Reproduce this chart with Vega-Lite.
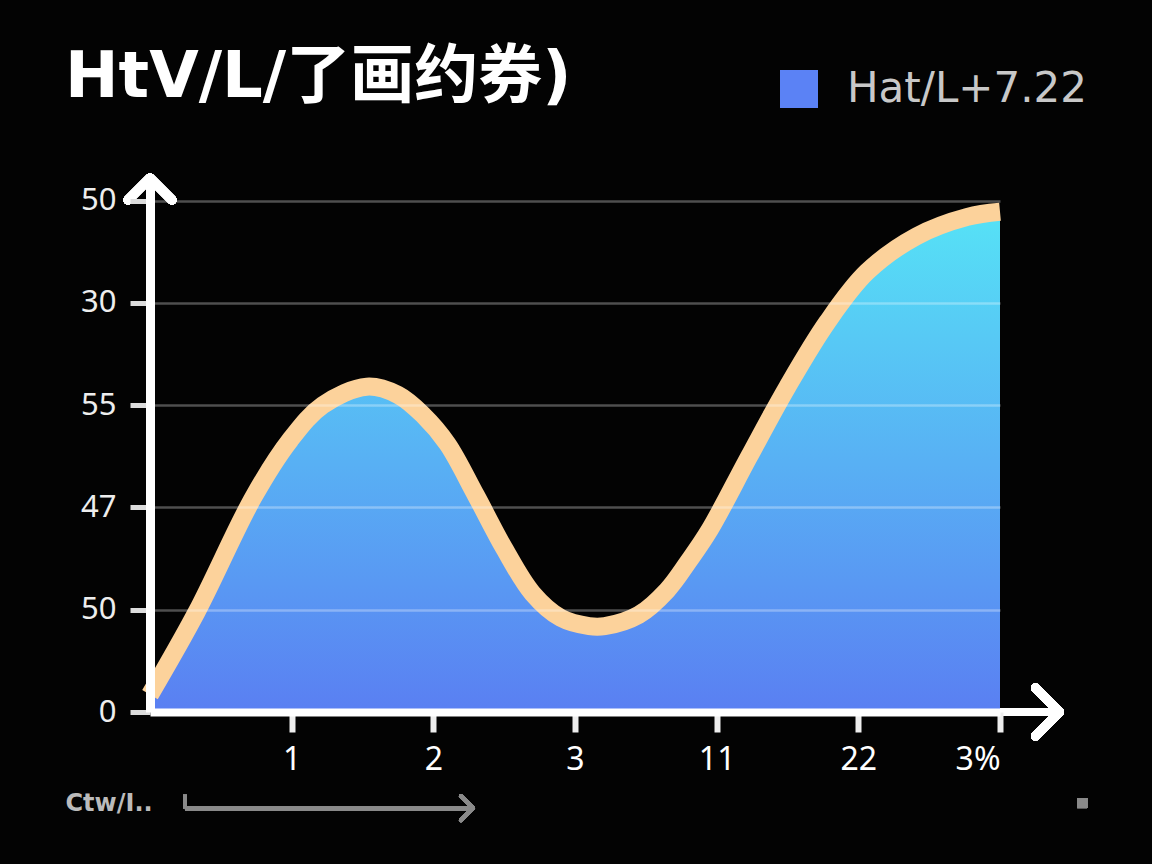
{
  "$schema": "https://vega.github.io/schema/vega-lite/v6.json",
  "autosize": {"type": "none"},
  "width": 850,
  "height": 534,
  "padding": {"left": 150, "top": 178, "right": 152, "bottom": 152},
  "background": "#030303",
  "title": {
    "text": "HtV/L/了画约券)",
    "anchor": "start",
    "frame": "group",
    "dx": -85,
    "dy": 42,
    "offset": 0,
    "font": "DejaVu Sans, Noto Sans CJK SC",
    "fontSize": 64,
    "fontWeight": "bold",
    "color": "#ffffff"
  },
  "config": {
    "view": {"stroke": null},
    "axis": {"labelFont": "Noto Sans", "titleFont": "DejaVu Sans"}
  },
  "data": {
    "values": [
      {"x": 0, "y": 0.17},
      {"x": 0.33, "y": 0.98},
      {"x": 0.73, "y": 2.1},
      {"x": 0.99, "y": 2.66},
      {"x": 1.22, "y": 3.0},
      {"x": 1.53, "y": 3.18},
      {"x": 1.75, "y": 3.1},
      {"x": 1.93, "y": 2.9},
      {"x": 2.1, "y": 2.62},
      {"x": 2.3, "y": 2.12},
      {"x": 2.5, "y": 1.6},
      {"x": 2.7, "y": 1.16},
      {"x": 2.9, "y": 0.92},
      {"x": 3.1, "y": 0.84},
      {"x": 3.21, "y": 0.84},
      {"x": 3.45, "y": 0.95},
      {"x": 3.65, "y": 1.19},
      {"x": 3.8, "y": 1.47},
      {"x": 3.95, "y": 1.78},
      {"x": 4.23, "y": 2.5},
      {"x": 4.5, "y": 3.18},
      {"x": 4.78, "y": 3.81},
      {"x": 5.06, "y": 4.3},
      {"x": 5.41, "y": 4.65},
      {"x": 5.77, "y": 4.84},
      {"x": 6.0, "y": 4.89}
    ]
  },
  "layer": [
    {
      "mark": {
        "type": "area",
        "interpolate": "catmull-rom",
        "color": {
          "gradient": "linear",
          "x1": 0, "y1": 0, "x2": 0, "y2": 1,
          "stops": [
            {"offset": 0, "color": "#56e2f6"},
            {"offset": 1, "color": "#5a7ff2"}
          ]
        }
      },
      "encoding": {
        "x": {
          "field": "x",
          "type": "quantitative",
          "scale": {"domain": [0, 6], "nice": false, "zero": false},
          "axis": {
            "values": [1, 2, 3, 4, 5, 6],
            "labelExpr": "['','1','2','3','11','22','3%'][datum.value]",
            "grid": false,
            "zindex": 1,
            "domainColor": "#ffffff",
            "domainWidth": 8,
            "tickColor": "#eeeeee",
            "tickWidth": 6,
            "tickSize": 20,
            "labelFontSize": 32,
            "labelColor": "#ffffff",
            "labelPadding": 12,
            "title": "Ctw/I..",
            "titleX": -85,
            "titleY": 91,
            "titleAlign": "left",
            "titleAnchor": "start",
            "titleBaseline": "middle",
            "titleFontSize": 24,
            "titleFontWeight": "bold",
            "titleColor": "#bbbbbb"
          }
        },
        "y": {
          "field": "y",
          "type": "quantitative",
          "scale": {"domain": [0, 5.22], "nice": false, "zero": false},
          "axis": {
            "values": [0, 1, 2, 3, 4, 5],
            "labelExpr": "['0','50','47','55','30','50'][datum.value]",
            "grid": true,
            "gridColor": "#ffffff",
            "gridOpacity": 0.3,
            "gridWidth": 2.5,
            "zindex": 1,
            "domainColor": "#ffffff",
            "domainWidth": 9,
            "tickColor": "#dddddd",
            "tickWidth": 5,
            "tickSize": 20,
            "labelFontSize": 31,
            "labelColor": "#eeeeee",
            "labelPadding": 14,
            "title": null
          }
        }
      }
    },
    {
      "mark": {"type": "line", "interpolate": "catmull-rom", "color": "#fcd29b", "strokeWidth": 18, "strokeCap": "butt"},
      "encoding": {
        "x": {"field": "x", "type": "quantitative"},
        "y": {"field": "y", "type": "quantitative"}
      }
    },
    {
      "mark": {"type": "point", "filled": true, "opacity": 0},
      "encoding": {
        "x": {"datum": 0},
        "y": {"datum": 0},
        "color": {
          "datum": "Hat/L+7.22",
          "scale": {"range": ["#5b82f5"]},
          "legend": {
            "orient": "none",
            "legendX": 628,
            "legendY": -110,
            "title": null,
            "symbolType": "square",
            "symbolSize": 1444,
            "symbolOpacity": 1,
            "symbolStrokeWidth": 0,
            "labelFontSize": 42,
            "labelFont": "DejaVu Sans",
            "labelColor": "#c8c8c8",
            "labelOffset": 27,
            "labelLimit": 500,
            "padding": 0
          }
        }
      }
    },
    {
      "mark": {"type": "rule", "color": "#ffffff", "strokeWidth": 8, "clip": false},
      "encoding": {"x": {"datum": 6}, "x2": {"datum": 6.4}, "y": {"datum": 0}}
    },
    {
      "mark": {"type": "point", "shape": "M-1,-1L0,0L-1,1", "size": 2304, "filled": false, "stroke": "#ffffff", "strokeWidth": 9, "strokeCap": "round", "strokeJoin": "round", "opacity": 1, "clip": false},
      "encoding": {"x": {"datum": 6.42}, "y": {"datum": 0}}
    },
    {
      "mark": {"type": "point", "shape": "M-1,1L0,0L1,1", "size": 1936, "filled": false, "stroke": "#ffffff", "strokeWidth": 9, "strokeCap": "round", "strokeJoin": "round", "opacity": 1, "clip": false},
      "encoding": {"x": {"datum": 0}, "y": {"datum": 5.22}}
    },
    {
      "mark": {"type": "rule", "color": "#8a8a8a", "strokeWidth": 4, "clip": false},
      "encoding": {"x": {"datum": 0.247}, "y": {"datum": -0.81}, "y2": {"datum": -0.94}}
    },
    {
      "mark": {"type": "rule", "color": "#8a8a8a", "strokeWidth": 4, "clip": false},
      "encoding": {"x": {"datum": 0.247}, "x2": {"datum": 2.27}, "y": {"datum": -0.94}}
    },
    {
      "mark": {"type": "point", "shape": "M-1,-1L0,0L-1,1", "size": 576, "filled": false, "stroke": "#8a8a8a", "strokeWidth": 4, "strokeCap": "round", "strokeJoin": "round", "opacity": 1, "clip": false},
      "encoding": {"x": {"datum": 2.28}, "y": {"datum": -0.94}}
    },
    {
      "mark": {"type": "point", "shape": "square", "size": 100, "filled": true, "color": "#8a8a8a", "opacity": 1, "clip": false},
      "encoding": {"x": {"datum": 6.58}, "y": {"datum": -0.89}}
    }
  ]
}
